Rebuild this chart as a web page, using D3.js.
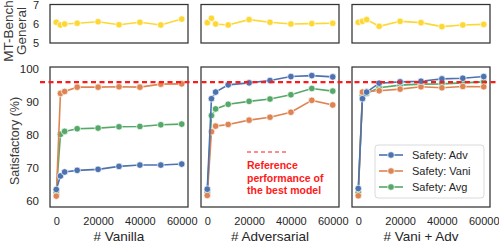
<!DOCTYPE html>
<html>
<head>
<meta charset="utf-8">
<script src="https://cdn.jsdelivr.net/npm/d3@7"></script>
<style>
  body { margin: 0; background: #fff; }
  text { font-family: "Liberation Sans", Arial, sans-serif; }
</style>
</head>
<body>
<script>
const width = 499;
const height = 245;

// shared x values for every series
const steps = [0, 2000, 4000, 10000, 20000, 30000, 40000, 50000, 60000];
const xTicks = [0, 20000, 40000, 60000];
const panelLabels = ["# Vanilla", "# Adversarial", "# Vani + Adv"];

// MT-Bench general score per panel
const mtBench = [
    [6.09, 5.95, 6.0, 6.04, 6.12, 5.96, 6.09, 5.95, 6.26],
    [6.07, 6.3, 6.0, 5.95, 6.23, 6.09, 6.0, 6.02, 6.04],
    [6.09, 6.14, 6.23, 5.88, 6.14, 6.07, 5.86, 5.95, 5.98],
];

// safety scores per panel
const safetyAdv = [
    [63.5, 67.6, 68.8, 69.3, 69.6, 70.5, 70.9, 70.9, 71.2],
    [63.6, 91.0, 93.0, 95.2, 95.8, 96.5, 97.7, 98.0, 97.6],
    [63.8, 91.0, 93.0, 95.7, 96.1, 96.3, 97.0, 97.2, 97.7],
];
const safetyVani = [
    [61.5, 92.6, 93.2, 94.5, 94.5, 94.6, 94.5, 95.4, 95.5],
    [61.7, 81.0, 82.7, 83.2, 84.5, 85.4, 86.9, 90.5, 89.1],
    [61.6, 93.0, 93.2, 93.4, 93.9, 94.6, 94.3, 94.7, 94.6],
];
const safetyAvg = [
    [62.7, 80.2, 81.1, 81.9, 82.1, 82.5, 82.6, 83.1, 83.3],
    [62.7, 85.9, 87.9, 89.3, 90.2, 90.9, 92.2, 94.1, 93.3],
    [62.6, 92.0, 92.6, 94.3, 95.1, 95.4, 95.5, 95.8, 96.1],
];
const referenceScore = 96;

const seriesNames = ["Safety: Adv", "Safety: Vani", "Safety: Avg"];
const seriesColors = ["#4c72b0", "#dd8452", "#55a868"];
const mtColor = "#fdd835";

const svg = d3.select("body")
    .append("svg")
    .attr("width", width)
    .attr("height", height);

const panelLeft = [50, 201, 352];
const panelWidth = 138;
const topPanel = { y0: 4.5, y1: 43 };
const bottomPanel = { y0: 67, y1: 207 };

const yTop = d3.scaleLinear().domain([5, 7]).range([43, 5]);
const yBottom = d3.scaleLinear().domain([58.2, 100.6]).range([bottomPanel.y1, bottomPanel.y0]);

function drawLine(g, x, y, values, color) {
    const data = steps.map((s, i) => [s, values[i]]);
    g.append("path")
        .datum(data)
        .attr("fill", "none")
        .attr("stroke", color)
        .attr("stroke-width", 1.6)
        .attr("d", d3.line().x(d => x(d[0])).y(d => y(d[1])));
    g.selectAll(null)
        .data(data)
        .enter()
        .append("circle")
        .attr("cx", d => x(d[0]))
        .attr("cy", d => y(d[1]))
        .attr("r", 3.3)
        .attr("fill", color)
        .attr("stroke", "#fff")
        .attr("stroke-width", 0.7);
}

for (let p = 0; p < 3; p++) {
    const x = d3.scaleLinear()
        .domain([-3000, 63000])
        .range([panelLeft[p], panelLeft[p] + panelWidth]);

    // top panel: MT-Bench
    const gTop = svg.append("g");
    drawLine(gTop, x, yTop, mtBench[p], mtColor);
    gTop.append("rect")
        .attr("x", panelLeft[p])
        .attr("y", topPanel.y0)
        .attr("width", panelWidth)
        .attr("height", topPanel.y1 - topPanel.y0)
        .attr("fill", "none")
        .attr("stroke", "#333")
        .attr("stroke-width", 1.25);

    // bottom panel: safety
    const gBot = svg.append("g");
    drawLine(gBot, x, yBottom, safetyAvg[p], seriesColors[2]);
    drawLine(gBot, x, yBottom, safetyVani[p], seriesColors[1]);
    drawLine(gBot, x, yBottom, safetyAdv[p], seriesColors[0]);
    gBot.append("rect")
        .attr("x", panelLeft[p])
        .attr("y", bottomPanel.y0)
        .attr("width", panelWidth)
        .attr("height", bottomPanel.y1 - bottomPanel.y0)
        .attr("fill", "none")
        .attr("stroke", "#333")
        .attr("stroke-width", 1.25);

    // x axis
    const xAxis = svg.append("g")
        .attr("transform", `translate(0,${bottomPanel.y1})`)
        .call(d3.axisBottom(x).tickValues(xTicks).tickSize(0).tickPadding(10).tickFormat(d3.format("d")));
    xAxis.select(".domain").remove();
    xAxis.selectAll("text")
        .attr("font-size", 11)
        .attr("fill", "#262626");

    svg.append("text")
        .attr("x", panelLeft[p] + panelWidth / 2)
        .attr("y", 241)
        .attr("text-anchor", "middle")
        .attr("font-size", 13.5)
        .attr("fill", "#262626")
        .text(panelLabels[p]);
}

// y axes on the first column
const yTopAxis = svg.append("g")
    .attr("transform", `translate(${panelLeft[0]},0)`)
    .call(d3.axisLeft(yTop).tickValues([5, 6, 7]).tickSize(0).tickPadding(11).tickFormat(d3.format("d")));
yTopAxis.select(".domain").remove();
yTopAxis.selectAll("text").attr("font-size", 11).attr("fill", "#262626");

const yBotAxis = svg.append("g")
    .attr("transform", `translate(${panelLeft[0]},0)`)
    .call(d3.axisLeft(yBottom).tickValues([60, 70, 80, 90, 100]).tickSize(0).tickPadding(11).tickFormat(d3.format("d")));
yBotAxis.select(".domain").remove();
yBotAxis.selectAll("text").attr("font-size", 11.5).attr("fill", "#262626");

svg.append("text")
    .attr("transform", "translate(19,141) rotate(-90)")
    .attr("text-anchor", "middle")
    .attr("font-size", 12.5)
    .attr("fill", "#3a3a3a")
    .text("Satisfactory (%)");

const mtLabel = svg.append("text")
    .attr("transform", "translate(12.5,31) rotate(-90)")
    .attr("text-anchor", "middle")
    .attr("font-size", 13.5)
    .attr("fill", "#3a3a3a");
mtLabel.append("tspan").attr("x", 0).attr("dy", 0).text("MT-Bench");
mtLabel.append("tspan").attr("x", 0).attr("dy", 13.5).text("General");

// reference line across the bottom row
svg.append("line")
    .attr("x1", 40)
    .attr("x2", width)
    .attr("y1", yBottom(referenceScore))
    .attr("y2", yBottom(referenceScore))
    .attr("stroke", "#ff1a1a")
    .attr("stroke-width", 2.2)
    .attr("stroke-dasharray", "5,3.5");

// annotation in the middle panel
svg.append("line")
    .attr("x1", 247)
    .attr("x2", 289)
    .attr("y1", 152)
    .attr("y2", 152)
    .attr("stroke", "#ff1a1a")
    .attr("stroke-width", 1)
    .attr("stroke-dasharray", "4,3");
const note = svg.append("text")
    .attr("x", 247)
    .attr("y", 169)
    .attr("font-size", 10.5)
    .attr("font-weight", "bold")
    .attr("fill", "#ff1a1a");
["Reference", "performance of", "the best model"].forEach((t, i) => {
    note.append("tspan").attr("x", 247).attr("dy", i === 0 ? 0 : 12.5).text(t);
});

// legend in the last panel
const legend = svg.append("g").attr("transform", "translate(375,145)");
legend.append("rect")
    .attr("width", 109)
    .attr("height", 53)
    .attr("rx", 3)
    .attr("fill", "#fff")
    .attr("fill-opacity", 0.85)
    .attr("stroke", "#d0d0d0")
    .attr("stroke-width", 0.8);
seriesNames.forEach((name, i) => {
    const yy = 10 + i * 16;
    legend.append("line")
        .attr("x1", 4).attr("x2", 28)
        .attr("y1", yy).attr("y2", yy)
        .attr("stroke", seriesColors[i])
        .attr("stroke-width", 1.6);
    legend.append("circle")
        .attr("cx", 16).attr("cy", yy).attr("r", 3.3)
        .attr("fill", seriesColors[i])
        .attr("stroke", "#fff").attr("stroke-width", 0.7);
    legend.append("text")
        .attr("x", 37).attr("y", yy + 4)
        .attr("font-size", 11)
        .attr("fill", "#262626")
        .text(name);
});
</script>
</body>
</html>
